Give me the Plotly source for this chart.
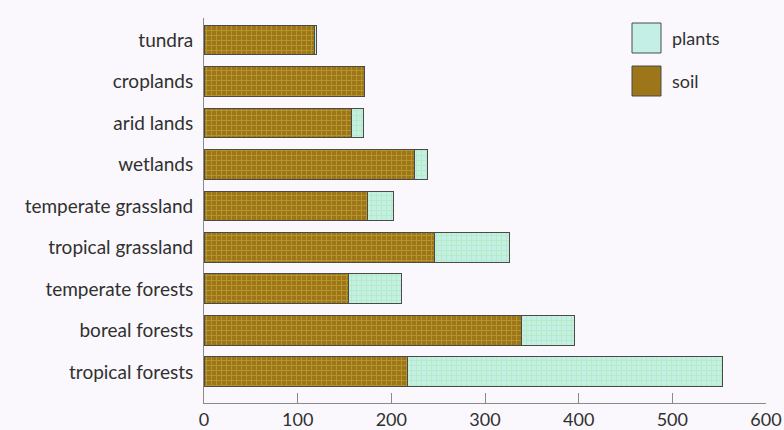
import plotly.graph_objects as go

# Carbon stored per biome, listed top to bottom
biomes = ["tundra", "croplands", "arid lands", "wetlands", "temperate grassland",
          "tropical grassland", "temperate forests", "boreal forests", "tropical forests"]
soil = [118, 171, 157, 225, 175, 246, 154, 339, 217]
plants = [2, 0, 13, 14, 27, 80, 57, 57, 337]
x_ticks = [0, 100, 200, 300, 400, 500, 600]

SOIL_BG, SOIL_FG = "#9c7618", "#d1b442"
PLANT_BG, PLANT_FG = "#c4efe6", "#a6e89e"
OUTLINE = "#4a4a4a"
FONT = "Lato"
TEXT = "#303030"

fig = go.Figure()
fig.add_trace(go.Bar(
    y=biomes, x=soil, orientation="h", name="soil",
    marker=dict(color=SOIL_BG, line=dict(color=OUTLINE, width=1),
                pattern=dict(shape="+", size=5, solidity=0.35,
                             fgcolor=SOIL_FG, bgcolor=SOIL_BG)),
))
fig.add_trace(go.Bar(
    y=biomes, x=plants, orientation="h", name="plants",
    marker=dict(color=PLANT_BG, line=dict(color=OUTLINE, width=1),
                pattern=dict(shape="+", size=5, solidity=0.35,
                             fgcolor=PLANT_FG, bgcolor=PLANT_BG)),
))

# Legend drawn as large swatches with labels (pixel positions inside the plot area)
L, R, T, B = 204, 766, 18, 403
legend_items = [("plants", PLANT_BG, 23, 53), ("soil", SOIL_BG, 66, 96)]
for label, col, top, bot in legend_items:
    fig.add_shape(type="rect", xref="paper", yref="paper",
                  x0=(632 - L) / (R - L), x1=(661 - L) / (R - L),
                  y0=(B - bot) / (B - T), y1=(B - top) / (B - T),
                  fillcolor=col, line=dict(color=OUTLINE, width=1))
    fig.add_annotation(xref="paper", yref="paper",
                       x=(670 - L) / (R - L), y=(B - (top + bot) / 2) / (B - T),
                       text=label, showarrow=False, xanchor="left", yanchor="middle",
                       font=dict(family=FONT, size=18, color=TEXT))

fig.update_layout(
    barmode="stack",
    bargap=0.28,
    width=784, height=430,
    margin=dict(l=L, r=784 - R, t=T, b=430 - B),
    paper_bgcolor="#faf8fc",
    plot_bgcolor="#faf8fc",
    showlegend=False,
    font=dict(family=FONT, size=17, color=TEXT),
)
fig.update_xaxes(
    range=[0, 600], tickvals=x_ticks, ticktext=[str(v) for v in x_ticks],
    automargin=False,
    showgrid=False, zeroline=False, showline=True, linecolor="#8a8a8a", linewidth=1,
    ticks="inside", ticklen=10, tickcolor="#8a8a8a",
    tickfont=dict(family=FONT, size=18, color=TEXT),
)
fig.update_yaxes(
    type="category", range=[8.75, -0.53], automargin=False,
    showgrid=False, zeroline=False, showline=True, linecolor="#8a8a8a", linewidth=1,
    ticks="", ticklabelstandoff=6,
    tickfont=dict(family=FONT, size=19, color=TEXT),
)

fig.write_html("out.html")
